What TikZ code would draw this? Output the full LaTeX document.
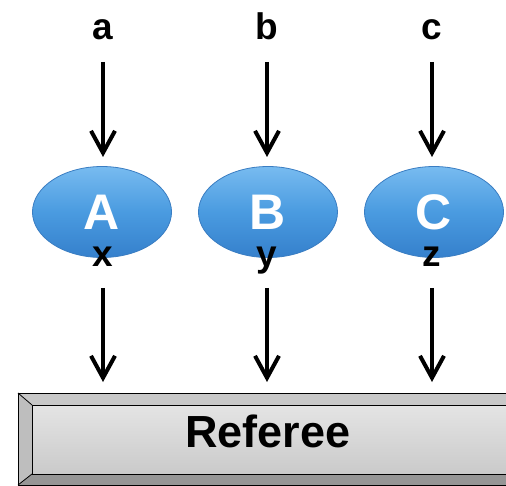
\documentclass[tikz,border=0pt]{standalone}
\usepackage{fontspec}
\setmainfont{Liberation Sans}
\usetikzlibrary{shapes.geometric,arrows.meta}
\definecolor{bluemid}{HTML}{4A9BE0}
\definecolor{bluetop}{HTML}{78BBF0}
\definecolor{bluebot}{HTML}{3580CC}
\definecolor{blueedge}{HTML}{3A7DC2}
\definecolor{bevtop}{HTML}{C8C8C8}
\definecolor{bevleft}{HTML}{BEBEBE}
\definecolor{bevbot}{HTML}{969696}
\definecolor{facetop}{HTML}{E4E4E4}
\definecolor{facebot}{HTML}{CACACA}
\tikzset{
  x=1pt, y=-1pt,
  toplabel/.style={font=\bfseries\fontsize{37}{37}\selectfont, anchor=base, inner sep=0pt},
  outlabel/.style={font=\bfseries\fontsize{37}{37}\selectfont, anchor=base, inner sep=0pt},
  player/.style={ellipse, minimum width=139pt, minimum height=91pt, inner sep=0pt,
    top color=bluetop, bottom color=bluebot, middle color=bluemid, draw=blueedge, line width=0.8pt},
  pletter/.style={font=\bfseries\fontsize{50}{50}\selectfont, text=white, inner sep=0pt},
  flow/.style={line width=4pt, -{Straight Barb[length=22pt,width=24pt]}},
  bevel/.style={draw=black, line width=1pt, line join=miter},
}
\begin{document}
\begin{tikzpicture}
\useasboundingbox (0,0) rectangle (506,486);
\clip (0,0) rectangle (506,486);

% Referee box
\fill[bevtop] (18,393) -- (530,393) -- (530,405) -- (32,405) -- cycle;
\fill[bevleft] (18,393) -- (32,405) -- (32,474) -- (18,485) -- cycle;
\fill[bevbot] (18,485) -- (32,474) -- (530,474) -- (530,485) -- cycle;
\node[rectangle, minimum width=498pt, minimum height=69pt, anchor=north west, inner sep=0pt,
  top color=facetop, bottom color=facebot] (ref) at (32,405) {};
\draw[bevel] (18,393) rectangle (530,485);
\draw[bevel] (32,405) rectangle (530,474);
\draw[line width=0.8pt] (18,393) -- (32,405) (18,485) -- (32,474);
\node[font=\bfseries\fontsize{45}{45}\selectfont, anchor=base, inner sep=0pt] (reftext) at (268,447) {Referee};

% players
\foreach \n/\xx/\nm in {A/102/pa, B/268/pb, C/434/pc}{
  \node[player] (\nm) at (\xx,212) {};
  \node[pletter] (\nm l) at (\xx,212) {\n};
}

% top labels
\node[toplabel] (la) at (103,40) {a};
\node[toplabel] (lb) at (267,40) {b};
\node[toplabel] (lc) at (432,40) {c};
% bottom labels
\node[outlabel] (lx) at (103,267) {x};
\node[outlabel] (ly) at (267,267) {y};
\node[outlabel] (lz) at (432,267) {z};

% arrow starts and ends
\coordinate (sa) at (103,62);
\coordinate (sb) at (267,62);
\coordinate (sc) at (432,62);
\coordinate (sx) at (103,288);
\coordinate (sy) at (267,288);
\coordinate (sz) at (432,288);
\coordinate (ta) at (103,169);
\coordinate (tb) at (267,169);
\coordinate (tc) at (432,169);
\coordinate (tx) at (103,393);
\coordinate (ty) at (267,393);
\coordinate (tz) at (432,393);

\draw[flow, shorten >=12pt] (sa) -- (ta);
\draw[flow, shorten >=12pt] (sb) -- (tb);
\draw[flow, shorten >=12pt] (sc) -- (tc);
\draw[flow, shorten >=11pt] (sx) -- (tx);
\draw[flow, shorten >=11pt] (sy) -- (ty);
\draw[flow, shorten >=11pt] (sz) -- (tz);
\end{tikzpicture}
\end{document}
